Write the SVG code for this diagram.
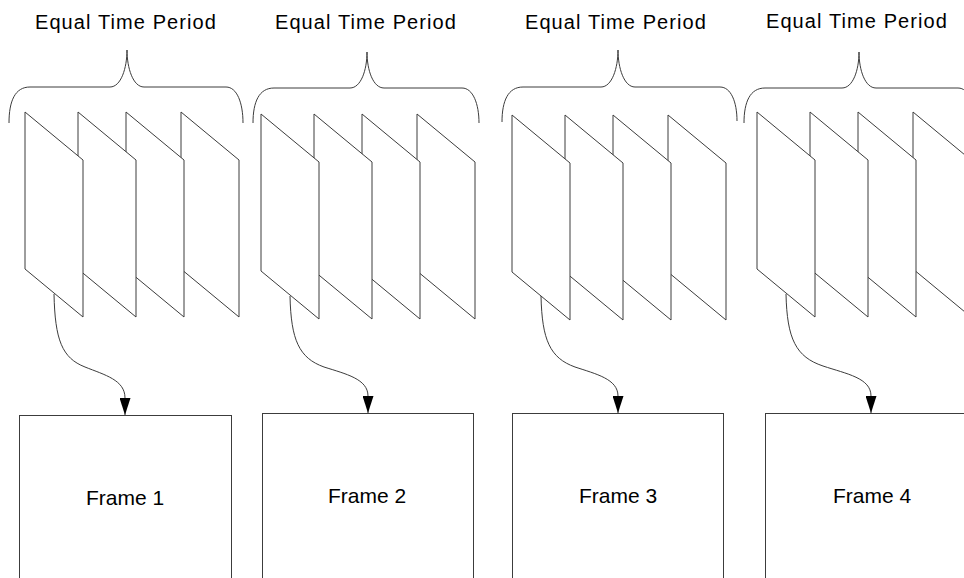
<svg xmlns="http://www.w3.org/2000/svg" xmlns:xlink="http://www.w3.org/1999/xlink" width="964" height="578" viewBox="0 0 964 578">
  <style>
    .line { fill: none; stroke: #3c3c3c; stroke-width: 1; }
    .panel { fill: #ffffff; stroke: #3c3c3c; stroke-width: 1; stroke-linejoin: miter; }
    .box { fill: #ffffff; stroke: #3c3c3c; stroke-width: 1; }
    .title { font-family: "Liberation Sans", Arial, sans-serif; font-size: 20px; letter-spacing: 1.1px; fill: #000; text-anchor: middle; }
    .label { font-family: "Liberation Sans", Arial, sans-serif; font-size: 21px; fill: #000; text-anchor: middle; }
  </style>
  <defs>
    <!-- one slanted sheet: a parallelogram, origin at its top-left corner -->
    <polygon id="sheet" class="panel" points="0,0 58,48 58,205 0,157"/>
    <!-- four overlapping sheets, the front one drawn last -->
    <g id="stack">
      <use xlink:href="#sheet" x="156"/>
      <use xlink:href="#sheet" x="101"/>
      <use xlink:href="#sheet" x="53"/>
      <use xlink:href="#sheet" x="0"/>
    </g>
    <marker id="arrow" markerUnits="userSpaceOnUse" markerWidth="17" markerHeight="11" viewBox="0 0 17 11" refX="17" refY="5.5" orient="auto">
      <path d="M0,0 L17,5.5 L0,11 Z" fill="#000"/>
    </marker>
  </defs>

  <rect width="964" height="578" fill="#ffffff"/>

  <!-- period 1 -->
  <g id="period1">
    <text class="title" x="126" y="29">Equal Time Period</text>
    <path class="line" d="M9,123 C9,101 15,87 30,87 L110,87 C121,87 127,68 127,50 C127,68 133,87 144,87 L226,87 C237,87 243,103 243,123"/>
    <use xlink:href="#stack" x="25" y="112"/>
  </g>

  <!-- period 2 -->
  <g id="period2">
    <text class="title" x="366" y="29">Equal Time Period</text>
    <path class="line" d="M253,123 C253,102 259,88 274,88 L350,88 C361,88 367,70 367,52 C367,70 373,88 384,88 L462,88 C473,88 479,104 479,123"/>
    <use xlink:href="#stack" x="261" y="114"/>
  </g>

  <!-- period 3 -->
  <g id="period3">
    <text class="title" x="616" y="29">Equal Time Period</text>
    <path class="line" d="M502,122 C502,101 508,87 523,87 L601,87 C612,87 618,68 618,50 C618,68 624,87 635,87 L720,87 C731,87 737,102 737,121"/>
    <use xlink:href="#stack" x="512" y="115"/>
  </g>

  <!-- period 4 -->
  <g id="period4">
    <text class="title" x="857" y="28">Equal Time Period</text>
    <path class="line" d="M744,123 C744,102 750,88 765,88 L842,88 C853,88 859,70 859,52 C859,70 865,88 876,88 L958,88 C969,88 975,104 975,123"/>
    <use xlink:href="#stack" x="757" y="112"/>
  </g>

  <!-- frames -->
  <g id="frame1">
    <rect class="box" x="19.5" y="415.5" width="212" height="180"/>
    <text class="label" x="125" y="505">Frame 1</text>
  </g>
  <g id="frame2">
    <rect class="box" x="262.5" y="413.5" width="211" height="180"/>
    <text class="label" x="367" y="503">Frame 2</text>
  </g>
  <g id="frame3">
    <rect class="box" x="512.5" y="413.5" width="211" height="180"/>
    <text class="label" x="618" y="503">Frame 3</text>
  </g>
  <g id="frame4">
    <rect class="box" x="765.5" y="413.5" width="212" height="180"/>
    <text class="label" x="872" y="503">Frame 4</text>
  </g>

  <!-- connectors: front sheet of each period down to its frame -->
  <g id="connectors" class="line" marker-end="url(#arrow)">
    <path d="M54,294 C55,340 62,358 85,367 C105,375 125,380 125,398 L125,415"/>
    <path d="M290,296 C291,340 299,358 324,367 C346,374 368,379 368,396 L368,413"/>
    <path d="M541,296 C542,340 550,358 575,367 C596,374 618,379 618,396 L618,413"/>
    <path d="M786,294 C787,339 796,357 823,366 C847,374 871,378 871,396 L871,413"/>
  </g>
</svg>
